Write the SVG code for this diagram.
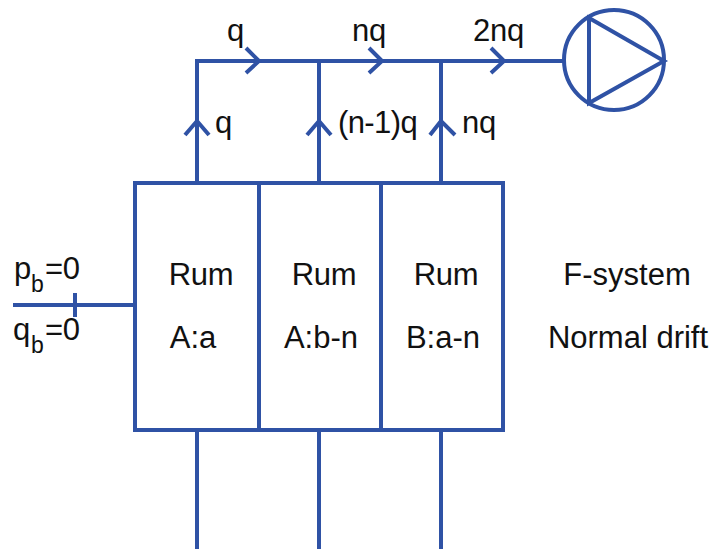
<svg xmlns="http://www.w3.org/2000/svg" width="711" height="549" viewBox="0 0 711 549">
<style>
.l{fill:none;stroke:#2f52a5;stroke-width:4}
.t{font-family:"Liberation Sans",Arial,sans-serif;font-size:31px;letter-spacing:-0.3px;fill:#111}
.s{font-size:23px}
.m{text-anchor:middle}
.w{letter-spacing:0}
</style>
<rect width="711" height="549" fill="#fff"/>
<g id="connectors" class="l">
<path d="M197 183V61H564"/>
<path d="M319 183V61"/>
<path d="M441 183V61"/>
<path d="M197 431V549M319 431V549M441 431V549"/>
<path d="M13 305H135"/>
<path d="M75 293V317"/>
<path d="M246 48L259 61L246 73"/>
<path d="M369 48L382 61L369 73"/>
<path d="M491 48L504 61L491 73"/>
<path d="M185 135L197 121L209 135"/>
<path d="M307 135L319 121L331 135"/>
<path d="M430 135L441 121L455 135"/>
</g>
<g id="pump" class="l">
<circle cx="614" cy="60" r="50"/>
<path d="M589 18V103L664 61Z"/>
</g>
<g id="box-a-a"><rect class="l" x="135" y="183" width="124" height="247"/><text class="t m" x="201" y="285">Rum</text><text class="t m w" x="193" y="348">A:a</text></g>
<g id="box-a-b-n"><rect class="l" x="259" y="183" width="122" height="247"/><text class="t m" x="324" y="285">Rum</text><text class="t m w" x="321" y="348">A:b-n</text></g>
<g id="box-b-a-n"><rect class="l" x="381" y="183" width="122" height="247"/><text class="t m" x="446" y="285">Rum</text><text class="t m w" x="443" y="348">B:a-n</text></g>
<g id="labels">
<text class="t" x="227" y="41">q</text>
<text class="t" x="352" y="41">nq</text>
<text class="t" x="473" y="41">2nq</text>
<text class="t" x="215" y="133">q</text>
<text class="t" x="338" y="133" style="letter-spacing:-.6px">(n-1)q</text>
<text class="t" x="462" y="133">nq</text>
<text class="t" x="14" y="279">p</text><text class="t s" x="31" y="292">b</text><text class="t" x="45" y="279">=0</text>
<text class="t" x="13" y="340">q</text><text class="t s" x="31" y="353">b</text><text class="t" x="45" y="340">=0</text>
<text class="t m w" x="627" y="285">F-system</text>
<text class="t m w" x="628" y="348">Normal drift</text>
</g>
</svg>
